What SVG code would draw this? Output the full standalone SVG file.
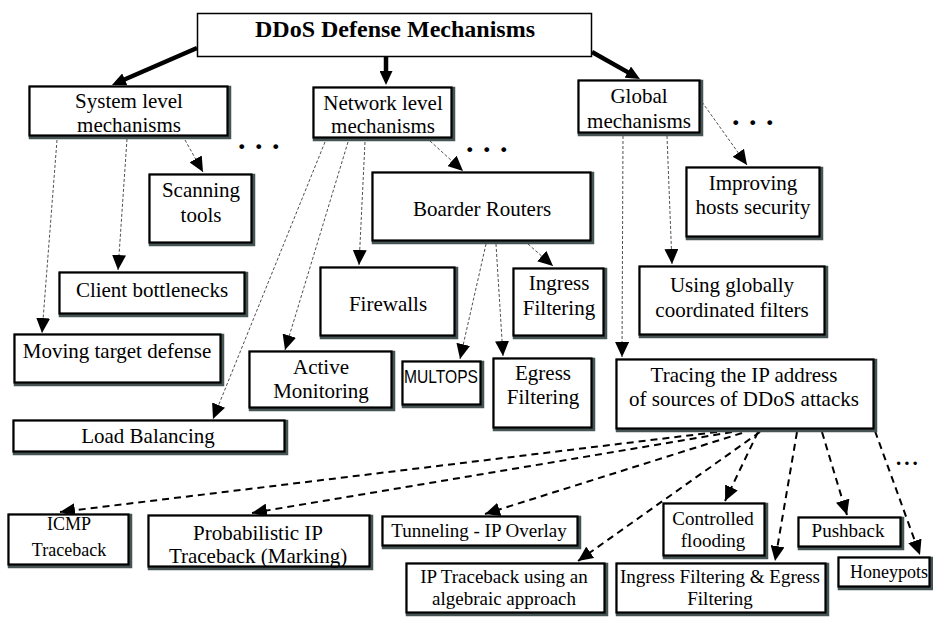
<svg xmlns="http://www.w3.org/2000/svg" width="933" height="617" viewBox="0 0 933 617">
<style>
.sh{fill:none;stroke:#475454;stroke-width:4.5}
.bx{fill:#fff;stroke:#000;stroke-width:2.2}
.t{font-family:"Liberation Serif","Times New Roman",serif;font-size:21px;text-anchor:middle;fill:#000}
.s19{font-size:19px}
.s18{font-size:18px}
.dots{font-family:"Liberation Serif","Times New Roman",serif;font-weight:bold;fill:#000}
.thin{stroke:#222;stroke-width:0.8;stroke-dasharray:3 2;fill:none}
.dash{stroke:#000;stroke-width:2;stroke-dasharray:7 5;fill:none}
.thick{stroke:#000;stroke-width:4.5;fill:none}
</style>
<defs>
<marker id="ah" markerUnits="userSpaceOnUse" markerWidth="15" markerHeight="14" refX="15" refY="7" orient="auto"><path d="M0,0 L15,7 L0,14 z" fill="#000"/></marker>
<marker id="ahk" markerUnits="userSpaceOnUse" markerWidth="14" markerHeight="13" refX="6" refY="6.5" orient="auto"><path d="M0,0 L14,6.5 L0,13 z" fill="#000"/></marker>
</defs>
<rect width="933" height="617" fill="#fff"/>

<g id="connectors">
<line class="thick" x1="197" y1="48" x2="119.3" y2="81.8" marker-end="url(#ahk)"/>
<line class="thick" x1="386" y1="57" x2="386" y2="77" marker-end="url(#ahk)"/>
<line class="thick" x1="592" y1="52" x2="633" y2="75.1" marker-end="url(#ahk)"/>

<line class="thin" x1="57" y1="140" x2="42" y2="333" marker-end="url(#ah)"/>
<line class="thin" x1="127" y1="139" x2="118" y2="270" marker-end="url(#ah)"/>
<line class="thin" x1="185" y1="140" x2="203" y2="172" marker-end="url(#ah)"/>
<line class="thin" x1="325" y1="142" x2="213" y2="419" marker-end="url(#ah)"/>
<line class="thin" x1="348" y1="142" x2="285" y2="350" marker-end="url(#ah)"/>
<line class="thin" x1="365" y1="142" x2="359" y2="265" marker-end="url(#ah)"/>
<line class="thin" x1="430" y1="141" x2="463" y2="171" marker-end="url(#ah)"/>
<line class="thin" x1="486" y1="244" x2="460" y2="359" marker-end="url(#ah)"/>
<line class="thin" x1="496" y1="244" x2="503" y2="356" marker-end="url(#ah)"/>
<line class="thin" x1="528" y1="244" x2="553" y2="266" marker-end="url(#ah)"/>
<line class="thin" x1="623" y1="136" x2="622" y2="357" marker-end="url(#ah)"/>
<line class="thin" x1="667" y1="136" x2="672" y2="264" marker-end="url(#ah)"/>
<line class="thin" x1="702" y1="102" x2="747" y2="165" marker-end="url(#ah)"/>

<line class="dash" x1="717" y1="432" x2="60" y2="512" marker-end="url(#ah)"/>
<line class="dash" x1="732" y1="432" x2="252" y2="513" marker-end="url(#ah)"/>
<line class="dash" x1="742" y1="433" x2="485" y2="514" marker-end="url(#ah)"/>
<line class="dash" x1="760" y1="432" x2="578" y2="561" marker-end="url(#ah)"/>
<line class="dash" x1="758" y1="432" x2="725" y2="501" marker-end="url(#ah)"/>
<line class="dash" x1="797" y1="432" x2="775" y2="561" marker-end="url(#ah)"/>
<line class="dash" x1="822" y1="432" x2="847" y2="515" marker-end="url(#ah)"/>
<line class="dash" x1="875" y1="431" x2="920" y2="555" marker-end="url(#ah)"/>
</g>

<g id="title">
<rect x="197.5" y="13.5" width="394" height="43" fill="#fff" stroke="#000" stroke-width="1.5"/>
<text class="t" x="395" y="37" style="font-size:24px;font-weight:bold">DDoS Defense Mechanisms</text>
</g>

<g id="system">
<rect class="sh" x="31" y="88" width="198" height="49"/>
<rect class="bx" x="29.5" y="86.5" width="198" height="49"/>
<text class="t" x="129" y="108">System level</text>
<text class="t" x="129" y="132">mechanisms</text>
</g>

<g id="network">
<rect class="sh" x="315" y="89" width="138" height="50"/>
<rect class="bx" x="313.5" y="87.5" width="138" height="50"/>
<text class="t" x="383" y="110">Network level</text>
<text class="t" x="383" y="133">mechanisms</text>
</g>

<g id="global">
<rect class="sh" x="580" y="82" width="121" height="52"/>
<rect class="bx" x="578.5" y="80.5" width="121" height="52"/>
<text class="t" x="639" y="103">Global</text>
<text class="t" x="639" y="128">mechanisms</text>
</g>

<text class="dots" x="238" y="149" style="font-size:30px;letter-spacing:9.5px">...</text>
<text class="dots" x="466" y="152" style="font-size:30px;letter-spacing:9.5px">...</text>
<text class="dots" x="732" y="125" style="font-size:30px;letter-spacing:9.5px">...</text>
<text class="dots" x="896" y="465" style="font-size:21px;letter-spacing:3px">...</text>

<g id="scanning">
<rect class="sh" x="151" y="176" width="102" height="68"/>
<rect class="bx" x="149.5" y="174.5" width="102" height="68"/>
<text class="t" x="201" y="197">Scanning</text>
<text class="t" x="201" y="222">tools</text>
</g>

<g id="boarder">
<rect class="sh" x="374" y="174" width="218" height="68"/>
<rect class="bx" x="372.5" y="172.5" width="218" height="68"/>
<text class="t" x="482" y="216">Boarder Routers</text>
</g>

<g id="improving">
<rect class="sh" x="688" y="169" width="133" height="69"/>
<rect class="bx" x="686.5" y="167.5" width="133" height="69"/>
<text class="t" x="753" y="190">Improving</text>
<text class="t" x="753" y="214">hosts security</text>
</g>

<g id="client">
<rect class="sh" x="61" y="274" width="185" height="41"/>
<rect class="bx" x="59.5" y="272.5" width="185" height="41"/>
<text class="t" x="152" y="297">Client bottlenecks</text>
</g>

<g id="firewalls">
<rect class="sh" x="322" y="269" width="134" height="68"/>
<rect class="bx" x="320.5" y="267.5" width="134" height="68"/>
<text class="t" x="388" y="311">Firewalls</text>
</g>

<g id="ingress">
<rect class="sh" x="515" y="270" width="90" height="67"/>
<rect class="bx" x="513.5" y="268.5" width="90" height="67"/>
<text class="t" x="559" y="290">Ingress</text>
<text class="t" x="559" y="315">Filtering</text>
</g>

<g id="using">
<rect class="sh" x="641" y="268" width="185" height="68"/>
<rect class="bx" x="639.5" y="266.5" width="185" height="68"/>
<text class="t" x="732" y="292">Using globally</text>
<text class="t" x="732" y="317">coordinated filters</text>
</g>

<g id="moving">
<rect class="sh" x="16" y="336" width="206" height="48"/>
<rect class="bx" x="14.5" y="334.5" width="206" height="48"/>
<text class="t" x="117" y="358">Moving target defense</text>
</g>

<g id="active">
<rect class="sh" x="251" y="353" width="142" height="56"/>
<rect class="bx" x="249.5" y="351.5" width="142" height="56"/>
<text class="t" x="321" y="374">Active</text>
<text class="t" x="321" y="398">Monitoring</text>
</g>

<g id="multops">
<rect class="sh" x="404" y="363" width="78" height="43"/>
<rect class="bx" x="402.5" y="361.5" width="78" height="43"/>
<text x="404" y="383" font-family="'Liberation Sans',Arial,sans-serif" font-size="18.5" textLength="74" lengthAdjust="spacingAndGlyphs" fill="#000">MULTOPS</text>
</g>

<g id="egress">
<rect class="sh" x="495" y="360" width="98" height="69"/>
<rect class="bx" x="493.5" y="358.5" width="98" height="69"/>
<text class="t" x="543" y="380">Egress</text>
<text class="t" x="543" y="404">Filtering</text>
</g>

<g id="tracing">
<rect class="sh" x="618" y="361" width="257" height="69"/>
<rect class="bx" x="616.5" y="359.5" width="257" height="69"/>
<text class="t" x="744" y="382">Tracing the IP address</text>
<text class="t" x="744" y="406">of sources of DDoS attacks</text>
</g>

<g id="load">
<rect class="sh" x="15" y="422" width="271" height="31"/>
<rect class="bx" x="13.5" y="420.5" width="271" height="31"/>
<text class="t" x="148" y="443">Load Balancing</text>
</g>

<g id="icmp">
<rect class="sh" x="10" y="516" width="120" height="50"/>
<rect class="bx" x="8.5" y="514.5" width="120" height="50"/>
<text class="t s18" x="69" y="530">ICMP</text>
<text class="t s18" x="69" y="556">Traceback</text>
</g>

<g id="probabilistic">
<rect class="sh" x="150" y="517" width="221" height="51"/>
<rect class="bx" x="148.5" y="515.5" width="221" height="51"/>
<text class="t" x="258" y="540">Probabilistic IP</text>
<text class="t" x="258" y="563">Traceback (Marking)</text>
</g>

<g id="tunneling">
<rect class="sh" x="384" y="518" width="195" height="29"/>
<rect class="bx" x="382.5" y="516.5" width="195" height="29"/>
<text class="t s19" x="479" y="537">Tunneling - IP Overlay</text>
</g>

<g id="algebraic">
<rect class="sh" x="408" y="565" width="198" height="49"/>
<rect class="bx" x="406.5" y="563.5" width="198" height="49"/>
<text class="t s19" x="504" y="583">IP Traceback using an</text>
<text class="t s19" x="504" y="605">algebraic approach</text>
</g>

<g id="controlled">
<rect class="sh" x="665" y="505" width="101" height="52"/>
<rect class="bx" x="663.5" y="503.5" width="101" height="52"/>
<text class="t s19" x="713" y="525">Controlled</text>
<text class="t s19" x="713" y="547">flooding</text>
</g>

<g id="ingress-egress">
<rect class="sh" x="618" y="565" width="209" height="49"/>
<rect class="bx" x="616.5" y="563.5" width="209" height="49"/>
<text class="t s19" x="720" y="583">Ingress Filtering &amp; Egress</text>
<text class="t s19" x="720" y="605">Filtering</text>
</g>

<g id="pushback">
<rect class="sh" x="800" y="519" width="102" height="29"/>
<rect class="bx" x="798.5" y="517.5" width="102" height="29"/>
<text class="t s19" x="848" y="537">Pushback</text>
</g>

<g id="honeypots">
<rect class="sh" x="840" y="559" width="91" height="29"/>
<rect class="bx" x="838.5" y="557.5" width="91" height="29"/>
<text class="t s18" x="889" y="578">Honeypots</text>
</g>
</svg>
